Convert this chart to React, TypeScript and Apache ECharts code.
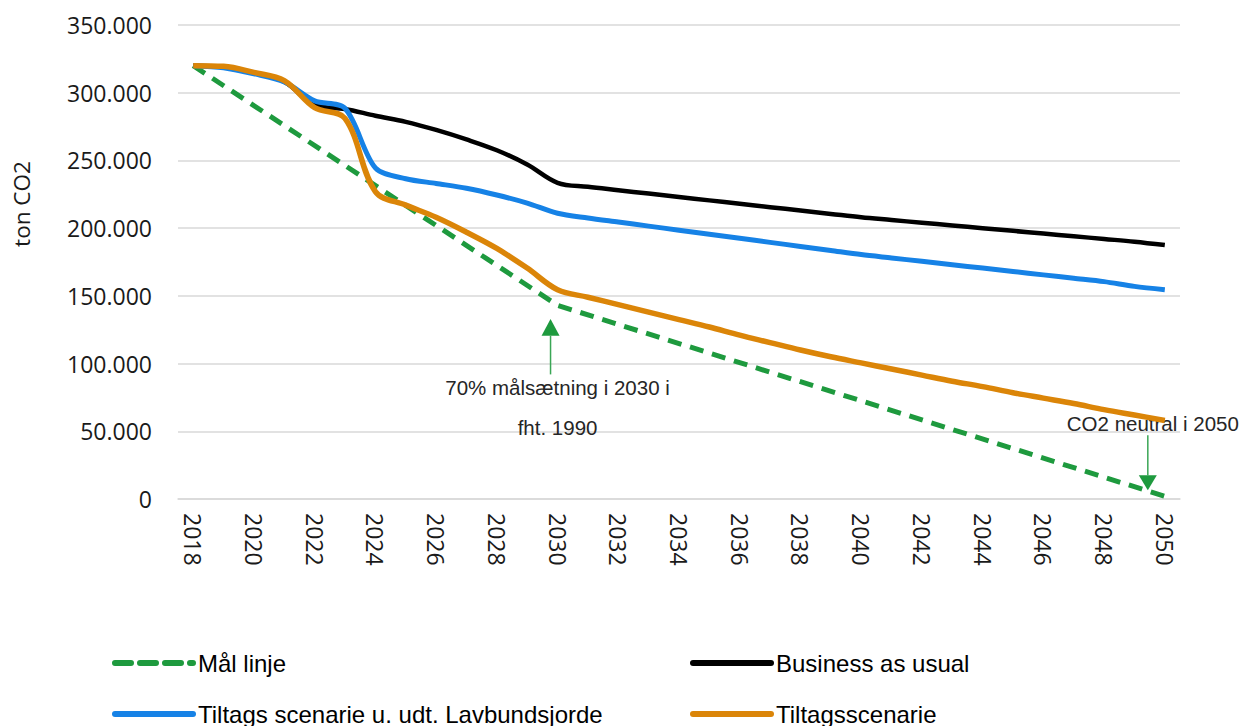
import React, { useEffect, useRef } from 'react';
import * as echarts from 'echarts';

const years = [
  '2018', '2019', '2020', '2021', '2022', '2023', '2024', '2025', '2026', '2027', '2028',
  '2029', '2030', '2031', '2032', '2033', '2034', '2035', '2036', '2037', '2038', '2039',
  '2040', '2041', '2042', '2043', '2044', '2045', '2046', '2047', '2048', '2049', '2050',
];

// Mål linje: known anchor points, straight between them
const maalLinje: (number | null)[] = [
  320000, null, null, null, null, null, null, null, null, null, null, null, 143000,
  null, null, null, null, null, null, null, null, null, null, null, null, null, null,
  null, null, null, null, null, 2000,
];

const businessAsUsual = [
  320000, 319000, 314500, 308000, 291000, 288000, 283000, 278500, 272500, 265500, 257500,
  247000, 233500, 230500, 228000, 225500, 223000, 220500, 218000, 215500, 213000, 210500,
  208000, 206000, 204000, 202000, 200000, 198000, 196000, 194000, 192000, 190000, 187500,
];

const tiltagsUdenLavbund = [
  320000, 318500, 314000, 308000, 294000, 288500, 244500, 236500, 233000, 229500, 224500,
  218500, 211000, 207500, 204500, 201500, 198500, 195500, 192500, 189500, 186500, 183500,
  180500, 178000, 175500, 173000, 170500, 168000, 165500, 163000, 160500, 157000, 154500,
];

const tiltagsscenarie = [
  320000, 319500, 315000, 309000, 289000, 281000, 227000, 217000, 208000, 197000, 185000,
  170500, 154500, 149000, 143500, 138000, 132500, 127000, 121000, 115500, 110000, 105000,
  100500, 96000, 91500, 87000, 83000, 78500, 74500, 70500, 66000, 62000, 58000,
];

const seriesNames = [
  'Mål linje',
  'Business as usual',
  'Tiltags scenarie u. udt. Lavbundsjorde',
  'Tiltagsscenarie',
];

const GREEN = '#1E9A3E';
const BLACK = '#000000';
const BLUE = '#1682E6';
const ORANGE = '#DB8508';

const fmt = (v: number) => String(v).replace(/\B(?=(\d{3})+(?!\d))/g, '.');

export default function App() {
  const ref = useRef<HTMLDivElement>(null);

  useEffect(() => {
    const chart = echarts.init(ref.current!, null, { renderer: 'svg' });
    const legendText = {
      fontFamily: '"Liberation Sans", Arial, sans-serif',
      fontSize: 24,
      color: '#000',
    };
    const legendBase = {
      orient: 'horizontal',
      padding: 0,
      itemGap: 10,
      itemWidth: 78,
      itemHeight: 14,
      textStyle: legendText,
      itemStyle: { opacity: 0 },
      lineStyle: { width: 6, cap: 'round' },
    };
    chart.setOption({
      animation: false,
      backgroundColor: '#fff',
      grid: { left: 178, right: 63, top: 25, bottom: 227, containLabel: false },
      xAxis: {
        type: 'category',
        data: years,
        boundaryGap: true,
        axisLine: { show: true, lineStyle: { color: '#d9d9d9', width: 1.5 } },
        axisTick: { show: false },
        axisLabel: {
          interval: 1,
          rotate: -90,
          margin: 14,
          color: '#1a1a1a',
          fontFamily: '"Open Sans", sans-serif',
          fontSize: 23,
        },
        splitLine: { show: false },
      },
      yAxis: {
        type: 'value',
        min: 0,
        max: 350000,
        interval: 50000,
        axisLine: { show: false },
        axisTick: { show: false },
        axisLabel: {
          margin: 26,
          color: '#1a1a1a',
          fontFamily: '"Open Sans", sans-serif',
          fontSize: 23,
          formatter: (v: number) => fmt(v),
        },
        splitLine: { lineStyle: { color: '#d9d9d9', width: 1.5 } },
      },
      legend: [
        {
          ...legendBase,
          left: 112,
          top: 651,
          data: [{ name: seriesNames[0], lineStyle: { type: [16, 9], width: 6, cap: 'round' } }],
        },
        { ...legendBase, left: 690, top: 651, data: [{ name: seriesNames[1] }] },
        { ...legendBase, left: 112, top: 702, data: [{ name: seriesNames[2] }] },
        { ...legendBase, left: 690, top: 702, data: [{ name: seriesNames[3] }] },
      ],
      series: [
        {
          name: seriesNames[0],
          type: 'line',
          data: maalLinje,
          connectNulls: true,
          symbol: 'none',
          smooth: false,
          lineStyle: { color: GREEN, width: 5, type: [14, 9] },
          itemStyle: { color: GREEN },
        },
        {
          name: seriesNames[1],
          type: 'line',
          data: businessAsUsual,
          symbol: 'none',
          smooth: 0.35,
          lineStyle: { color: BLACK, width: 4.5 },
          itemStyle: { color: BLACK },
        },
        {
          name: seriesNames[2],
          type: 'line',
          data: tiltagsUdenLavbund,
          symbol: 'none',
          smooth: 0.3,
          lineStyle: { color: BLUE, width: 5 },
          itemStyle: { color: BLUE },
        },
        {
          name: seriesNames[3],
          type: 'line',
          data: tiltagsscenarie,
          symbol: 'none',
          smooth: 0.35,
          lineStyle: { color: ORANGE, width: 5.5 },
          itemStyle: { color: ORANGE },
        },
      ],
    });

    const px = (i: number, v: number) =>
      chart.convertToPixel({ xAxisIndex: 0, yAxisIndex: 0 }, [i, v]) as number[];
    const yp = (v: number) => px(0, v)[1];
    const annFont = {
      fontFamily: '"Liberation Sans", Arial, sans-serif',
      fontSize: 20.5,
      fill: '#262626',
      textAlign: 'center',
      textVerticalAlign: 'middle',
    };
    const i2030 = years.indexOf('2030');
    const i2050 = years.indexOf('2050');
    const x1 = px(i2030, 0)[0] - 7;
    const x2 = px(i2050, 0)[0] - 17;

    chart.setOption({
      graphic: [
        {
          type: 'text',
          x: 21,
          y: 204,
          rotation: Math.PI / 2,
          style: {
            text: 'ton CO2',
            fontFamily: '"Open Sans", sans-serif',
            fontSize: 22.5,
            fill: '#1a1a1a',
            textAlign: 'center',
            textVerticalAlign: 'middle',
          },
        },
        // 2030 annotation
        {
          type: 'line',
          shape: { x1: x1, y1: yp(120500), x2: x1, y2: yp(92000) },
          style: { stroke: '#3AA655', lineWidth: 1.5 },
        },
        {
          type: 'polygon',
          shape: { points: [[x1, yp(133000)], [x1 - 9, yp(120500)], [x1 + 9, yp(120500)]] },
          style: { fill: GREEN },
        },
        {
          type: 'text',
          x: px(i2030, 0)[0],
          y: yp(82000),
          style: { ...annFont, text: '70% målsætning i 2030 i' },
        },
        {
          type: 'text',
          x: px(i2030, 0)[0],
          y: yp(53000),
          style: { ...annFont, text: 'fht. 1990' },
        },
        // 2050 annotation
        {
          type: 'text',
          x: px(i2050, 0)[0] - 12,
          y: yp(56000),
          style: { ...annFont, text: 'CO2 neutral i 2050' },
        },
        {
          type: 'line',
          shape: { x1: x2, y1: yp(47000), x2: x2, y2: yp(17500) },
          style: { stroke: '#3AA655', lineWidth: 1.5 },
        },
        {
          type: 'polygon',
          shape: { points: [[x2, yp(6500)], [x2 - 9, yp(17500)], [x2 + 9, yp(17500)]] },
          style: { fill: GREEN },
        },
      ],
    });

    return () => chart.dispose();
  }, []);

  return (
    <div
      ref={ref}
      style={{ position: 'absolute', left: 0, top: 0, width: 1243, height: 726 }}
    />
  );
}
